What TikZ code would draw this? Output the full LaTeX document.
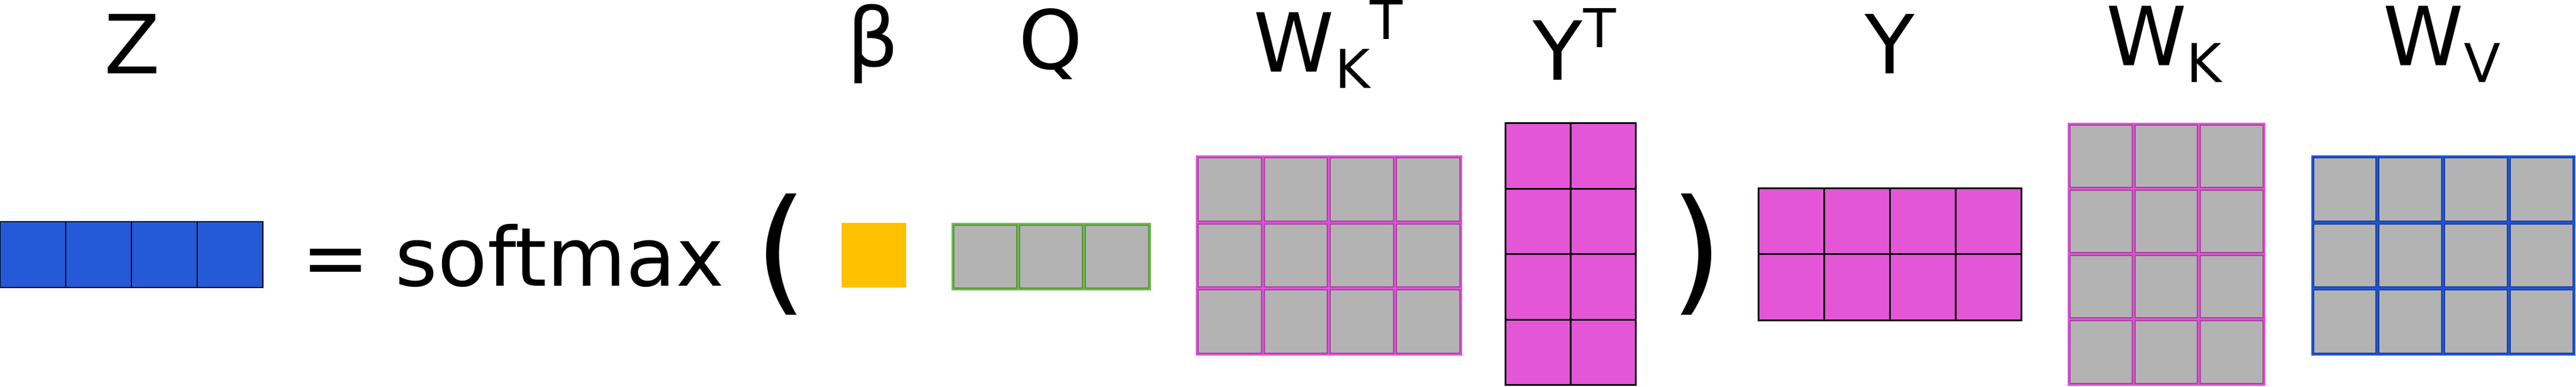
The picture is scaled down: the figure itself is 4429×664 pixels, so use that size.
\documentclass[tikz,border=0pt]{standalone}
\usepackage{fontspec}
\setmainfont{DejaVu Sans}
\definecolor{zblue}{RGB}{36,90,216}
\definecolor{byellow}{RGB}{255,192,0}
\definecolor{cgray}{RGB}{179,179,179}
\definecolor{ypink}{RGB}{227,87,215}
\definecolor{glight}{RGB}{109,190,75}
\definecolor{gdark}{RGB}{90,143,58}
\definecolor{mlight}{RGB}{224,85,216}
\definecolor{mdark}{RGB}{168,64,158}
\definecolor{blight}{RGB}{34,86,216}
\definecolor{bdark}{RGB}{28,63,158}
\tikzset{
  lbl/.style={inner sep=0pt, outer sep=0pt, anchor=base, font=\fontsize{35}{42}\selectfont},
  sublbl/.style={inner sep=0pt, outer sep=0pt, anchor=base, font=\fontsize{23}{28}\selectfont},
  paren/.style={inner sep=0pt, outer sep=0pt, anchor=center, font=\fontsize{58.5}{70}\selectfont},
  zcell/.style={fill=zblue, draw=black, line width=0.6pt},
  ycell/.style={fill=ypink, draw=black, line width=0.75pt},
}
% plain cells: x0 y0 x1 y1 cols rows style
\newcommand{\plaincells}[7]{%
  \pgfmathsetmacro\mycw{(#3-#1)/#5}%
  \pgfmathsetmacro\mych{(#4-#2)/#6}%
  \foreach \mi in {1,...,#5}{%
    \foreach \mj in {1,...,#6}{%
      \pgfmathsetmacro\mxa{#1+(\mi-1)*\mycw}%
      \pgfmathsetmacro\mya{#2+(\mj-1)*\mych}%
      \pgfmathsetmacro\mxb{#1+\mi*\mycw}%
      \pgfmathsetmacro\myb{#2+\mj*\mych}%
      \draw[#7] (\mxa,\mya) rectangle (\mxb,\myb);
    }%
  }%
}
% two-tone weight cells: x0 y0 x1 y1 cols rows light dark
\newcommand{\weightcells}[8]{%
  \pgfmathsetmacro\mycw{(#3-#1)/#5}%
  \pgfmathsetmacro\mych{(#4-#2)/#6}%
  \foreach \mi in {1,...,#5}{%
    \foreach \mj in {1,...,#6}{%
      \pgfmathsetmacro\mxa{#1+(\mi-1)*\mycw}%
      \pgfmathsetmacro\mya{#2+(\mj-1)*\mych}%
      \pgfmathsetmacro\mxb{#1+\mi*\mycw}%
      \pgfmathsetmacro\myb{#2+\mj*\mych}%
      \fill[cgray] (\mxa,\mya) rectangle (\mxb,\myb);
      \draw[#7, line width=0.75pt] (\mxa,\mya) rectangle (\mxb,\myb);
      \draw[#8, line width=0.5pt] (\mxa+2.5,\mya+2.5) rectangle (\mxb-2.5,\myb-2.5);
    }%
  }%
}
\begin{document}
\begin{tikzpicture}[x=0.25pt,y=-0.25pt]
\useasboundingbox (0,0) rectangle (4429,664);

% Z
\plaincells{0}{381}{452}{494}{4}{1}{zcell}
\node[lbl] (lZ) at (227.5,126) {Z};

% = softmax (
\node[lbl, anchor=base west] (eqsm) at (518,491.7) {= softmax};
\node[paren] (lp) at (1343,437) {(};

% beta
\fill[byellow] (1447,383) rectangle (1558,494);
\node[lbl] (lbeta) at (1501.5,114) {β};

% Q
\weightcells{1637.5}{384}{1977}{497.5}{3}{1}{glight}{gdark}
\node[lbl] (lQ) at (1806.5,118) {Q};

% W_K^T
\weightcells{2057.5}{268.5}{2512}{609}{4}{3}{mlight}{mdark}
\node[lbl] (lWKT) at (2224.5,123) {W};
\node[sublbl] (lWKTk) at (2325.5,151) {K};
\node[sublbl] (lWKTt) at (2383.5,67) {T};

% Y^T
\plaincells{2588}{211.5}{2812}{661.5}{2}{4}{ycell}
\node[lbl] (lYT) at (2678.5,137) {Y};
\node[sublbl] (lYTt) at (2751,81) {T};

% )
\node[paren] (rp) at (2917,437) {)};

% Y
\plaincells{3023}{323.5}{3475}{550}{4}{2}{ycell}
\node[lbl] (lY) at (3249.5,126) {Y};

% W_K
\weightcells{3556.5}{212}{3893}{661}{3}{4}{mlight}{mdark}
\node[lbl] (lWK) at (3691,112) {W};
\node[sublbl] (lWKk) at (3789.5,141) {K};

% W_V
\weightcells{3975}{268.5}{4426}{609}{4}{3}{blight}{bdark}
\node[lbl] (lWV) at (4167,112) {W};
\node[sublbl] (lWVv) at (4267.5,141) {V};
\end{tikzpicture}
\end{document}
